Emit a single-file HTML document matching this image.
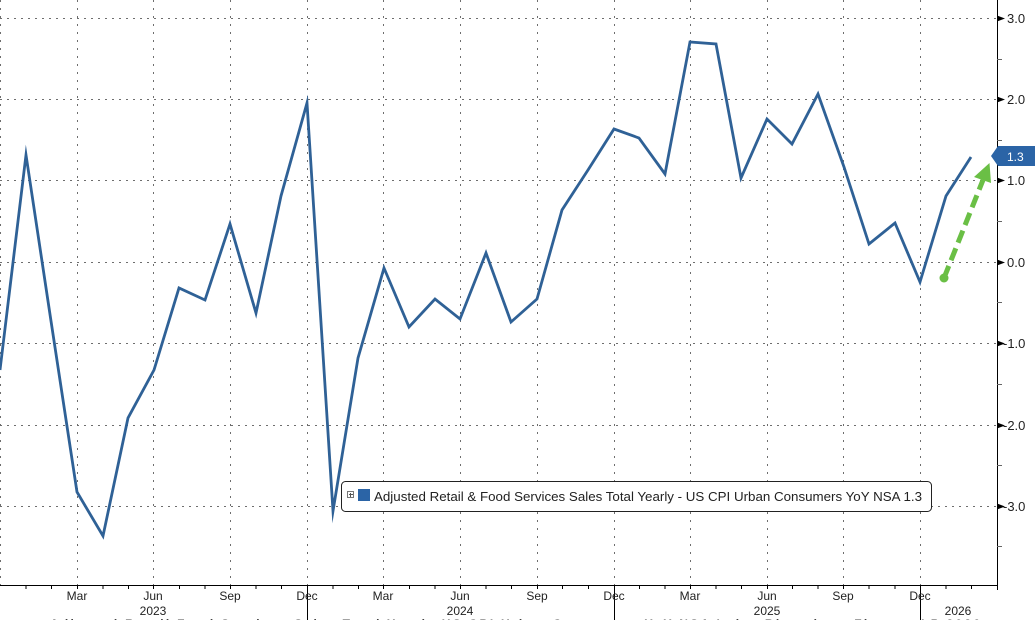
<!DOCTYPE html>
<html>
<head>
<meta charset="utf-8">
<style>
  html,body{margin:0;padding:0;background:#fff;}
  body{width:1035px;height:620px;overflow:hidden;position:relative;}
  svg{position:absolute;left:0;top:0;}
  text{font-family:"Liberation Sans",Arial,sans-serif;}
</style>
</head>
<body>
<svg width="1035" height="620" viewBox="0 0 1035 620" xmlns="http://www.w3.org/2000/svg">
  <rect x="0" y="0" width="1035" height="620" fill="#ffffff"/>

  <!-- horizontal gridlines -->
  <g stroke="#6e6e6e" stroke-width="1" stroke-dasharray="2 5">
    <line x1="0" y1="18.5" x2="997" y2="18.5"/>
    <line x1="0" y1="99.5" x2="997" y2="99.5"/>
    <line x1="0" y1="180.5" x2="997" y2="180.5"/>
    <line x1="0" y1="262.5" x2="997" y2="262.5"/>
    <line x1="0" y1="343.5" x2="997" y2="343.5"/>
    <line x1="0" y1="425.5" x2="997" y2="425.5"/>
    <line x1="0" y1="506.5" x2="997" y2="506.5"/>
  </g>
  <!-- vertical gridlines -->
  <g stroke="#6e6e6e" stroke-width="1" stroke-dasharray="2 6">
    <line x1="0.5" y1="0" x2="0.5" y2="585"/>
    <line x1="77.5" y1="0" x2="77.5" y2="585"/>
    <line x1="153.5" y1="0" x2="153.5" y2="585"/>
    <line x1="230.5" y1="0" x2="230.5" y2="585"/>
    <line x1="307.5" y1="0" x2="307.5" y2="585"/>
    <line x1="383.5" y1="0" x2="383.5" y2="585"/>
    <line x1="460.5" y1="0" x2="460.5" y2="585"/>
    <line x1="537.5" y1="0" x2="537.5" y2="585"/>
    <line x1="614.5" y1="0" x2="614.5" y2="585"/>
    <line x1="690.5" y1="0" x2="690.5" y2="585"/>
    <line x1="767.5" y1="0" x2="767.5" y2="585"/>
    <line x1="843.5" y1="0" x2="843.5" y2="585"/>
    <line x1="920.5" y1="0" x2="920.5" y2="585"/>
  </g>

  <!-- axes -->
  <line x1="0" y1="585.5" x2="998" y2="585.5" stroke="#000" stroke-width="1"/>
  <line x1="997.5" y1="0" x2="997.5" y2="590" stroke="#000" stroke-width="1"/>

  <!-- bottom monthly ticks -->
  <g stroke="#000" stroke-width="1">
    <line x1="26" y1="585" x2="26" y2="589"/><line x1="51.5" y1="585" x2="51.5" y2="589"/>
    <line x1="77.5" y1="585" x2="77.5" y2="589"/><line x1="103" y1="585" x2="103" y2="589"/>
    <line x1="128.5" y1="585" x2="128.5" y2="589"/><line x1="153.5" y1="585" x2="153.5" y2="589"/>
    <line x1="179.5" y1="585" x2="179.5" y2="589"/><line x1="205" y1="585" x2="205" y2="589"/>
    <line x1="230.5" y1="585" x2="230.5" y2="589"/><line x1="256" y1="585" x2="256" y2="589"/>
    <line x1="281.5" y1="585" x2="281.5" y2="589"/>
    <line x1="333" y1="585" x2="333" y2="589"/><line x1="358.5" y1="585" x2="358.5" y2="589"/>
    <line x1="383.5" y1="585" x2="383.5" y2="589"/><line x1="409.5" y1="585" x2="409.5" y2="589"/>
    <line x1="435" y1="585" x2="435" y2="589"/><line x1="460.5" y1="585" x2="460.5" y2="589"/>
    <line x1="486" y1="585" x2="486" y2="589"/><line x1="511.5" y1="585" x2="511.5" y2="589"/>
    <line x1="537.5" y1="585" x2="537.5" y2="589"/><line x1="562.5" y1="585" x2="562.5" y2="589"/>
    <line x1="588.5" y1="585" x2="588.5" y2="589"/>
    <line x1="639.5" y1="585" x2="639.5" y2="589"/><line x1="665" y1="585" x2="665" y2="589"/>
    <line x1="690.5" y1="585" x2="690.5" y2="589"/><line x1="716" y1="585" x2="716" y2="589"/>
    <line x1="741.5" y1="585" x2="741.5" y2="589"/><line x1="767.5" y1="585" x2="767.5" y2="589"/>
    <line x1="792.5" y1="585" x2="792.5" y2="589"/><line x1="818" y1="585" x2="818" y2="589"/>
    <line x1="843.5" y1="585" x2="843.5" y2="589"/><line x1="869" y1="585" x2="869" y2="589"/>
    <line x1="895" y1="585" x2="895" y2="589"/>
    <line x1="946" y1="585" x2="946" y2="589"/><line x1="971.5" y1="585" x2="971.5" y2="589"/>
    <line x1="997.5" y1="585" x2="997.5" y2="589"/>
    <!-- year separators -->
    <line x1="307.5" y1="585" x2="307.5" y2="620"/>
    <line x1="614.5" y1="585" x2="614.5" y2="620"/>
    <line x1="920.5" y1="585" x2="920.5" y2="620"/>
  </g>

  <!-- month labels -->
  <g font-size="12" fill="#222" text-anchor="middle">
    <text x="77" y="600">Mar</text>
    <text x="153" y="600">Jun</text>
    <text x="230" y="600">Sep</text>
    <text x="307" y="600">Dec</text>
    <text x="383" y="600">Mar</text>
    <text x="460" y="600">Jun</text>
    <text x="537" y="600">Sep</text>
    <text x="614" y="600">Dec</text>
    <text x="690" y="600">Mar</text>
    <text x="767" y="600">Jun</text>
    <text x="843" y="600">Sep</text>
    <text x="920" y="600">Dec</text>
    <text x="153" y="615">2023</text>
    <text x="460" y="615">2024</text>
    <text x="767" y="615">2025</text>
    <text x="958" y="615">2026</text>
  </g>

  <!-- cut-off footer text -->
  <text x="50" y="628" font-size="12" font-weight="bold" fill="#444" textLength="930" lengthAdjust="spacing">Adjusted Retail Food Services Sales Total Yearly US CPI Urban Consumers YoY NSA Index Bloomberg Finance LP 2026</text>

  <!-- right axis ticks -->
  <g fill="#000">
    <polygon points="997,15.5 1005,18.5 997,21.5"/>
    <polygon points="997,96.5 1005,99.5 997,102.5"/>
    <polygon points="997,177.5 1005,180.5 997,183.5"/>
    <polygon points="997,259.5 1005,262.5 997,265.5"/>
    <polygon points="997,340.5 1005,343.5 997,346.5"/>
    <polygon points="997,422.5 1005,425.5 997,428.5"/>
    <polygon points="997,503.5 1005,506.5 997,509.5"/>
  </g>
  <g stroke="#666" stroke-width="1">
    <line x1="997" y1="59.5" x2="1002" y2="59.5"/>
    <line x1="997" y1="140.5" x2="1002" y2="140.5"/>
    <line x1="997" y1="221.5" x2="1002" y2="221.5"/>
    <line x1="997" y1="302.5" x2="1002" y2="302.5"/>
    <line x1="997" y1="384.5" x2="1002" y2="384.5"/>
    <line x1="997" y1="465.5" x2="1002" y2="465.5"/>
    <line x1="997" y1="546.5" x2="1002" y2="546.5"/>
  </g>
  <g font-size="13" fill="#222">
    <text x="1007" y="23">3.0</text>
    <text x="1007" y="104">2.0</text>
    <text x="1007" y="185">1.0</text>
    <text x="1007" y="267">0.0</text>
    <text x="1003" y="348">-1.0</text>
    <text x="1003" y="430">-2.0</text>
    <text x="1003" y="511">-3.0</text>
  </g>

  <!-- data series -->
  <polyline fill="none" stroke="#2f6196" stroke-width="2.8" stroke-linejoin="miter" stroke-miterlimit="10"
    points="0,370 26,155 51,321 77,492 103,536 128,418 154,370 179,288 205,300 230,224 256,313 281,196 307,103 333,511 358,358 384,268 409,327 435,299 460,319 486,253 511,322 537,299 562,210 588,170 614,129 639,138 665,174 690,42 716,44 741,178 767,119 792,144 818,94 844,167 869,244 895,223 920,282 946,196 971,157"/>

  <!-- green dashed arrow -->
  <circle cx="944" cy="278" r="4.5" fill="#6abf45"/>
  <line x1="944" y1="278" x2="983" y2="180" stroke="#6abf45" stroke-width="5" stroke-dasharray="13 6"/>
  <polygon points="989.5,163 991,183 974,177" fill="#6abf45"/>

  <!-- last value label -->
  <polygon points="991,156 998,146 1035,146 1035,166 998,166" fill="#2b64a6"/>
  <text x="1007" y="161" font-size="12" fill="#ffffff">1.3</text>

  <!-- legend -->
  <rect x="341.5" y="481.5" width="590" height="30" rx="4" ry="4" fill="#ffffff" stroke="#222" stroke-width="1"/>
  <rect x="347.5" y="491.5" width="6" height="6" fill="#fff" stroke="#777" stroke-width="1"/>
  <line x1="349" y1="494.5" x2="353" y2="494.5" stroke="#555" stroke-width="1"/>
  <line x1="350.5" y1="493" x2="350.5" y2="497" stroke="#555" stroke-width="1"/>
  <rect x="358" y="489" width="12" height="12" fill="#2b64a6"/>
  <text x="374" y="501" font-size="13" fill="#222" textLength="548" lengthAdjust="spacingAndGlyphs">Adjusted Retail &amp; Food Services Sales Total Yearly - US CPI Urban Consumers YoY NSA 1.3</text>
</svg>
</body>
</html>
